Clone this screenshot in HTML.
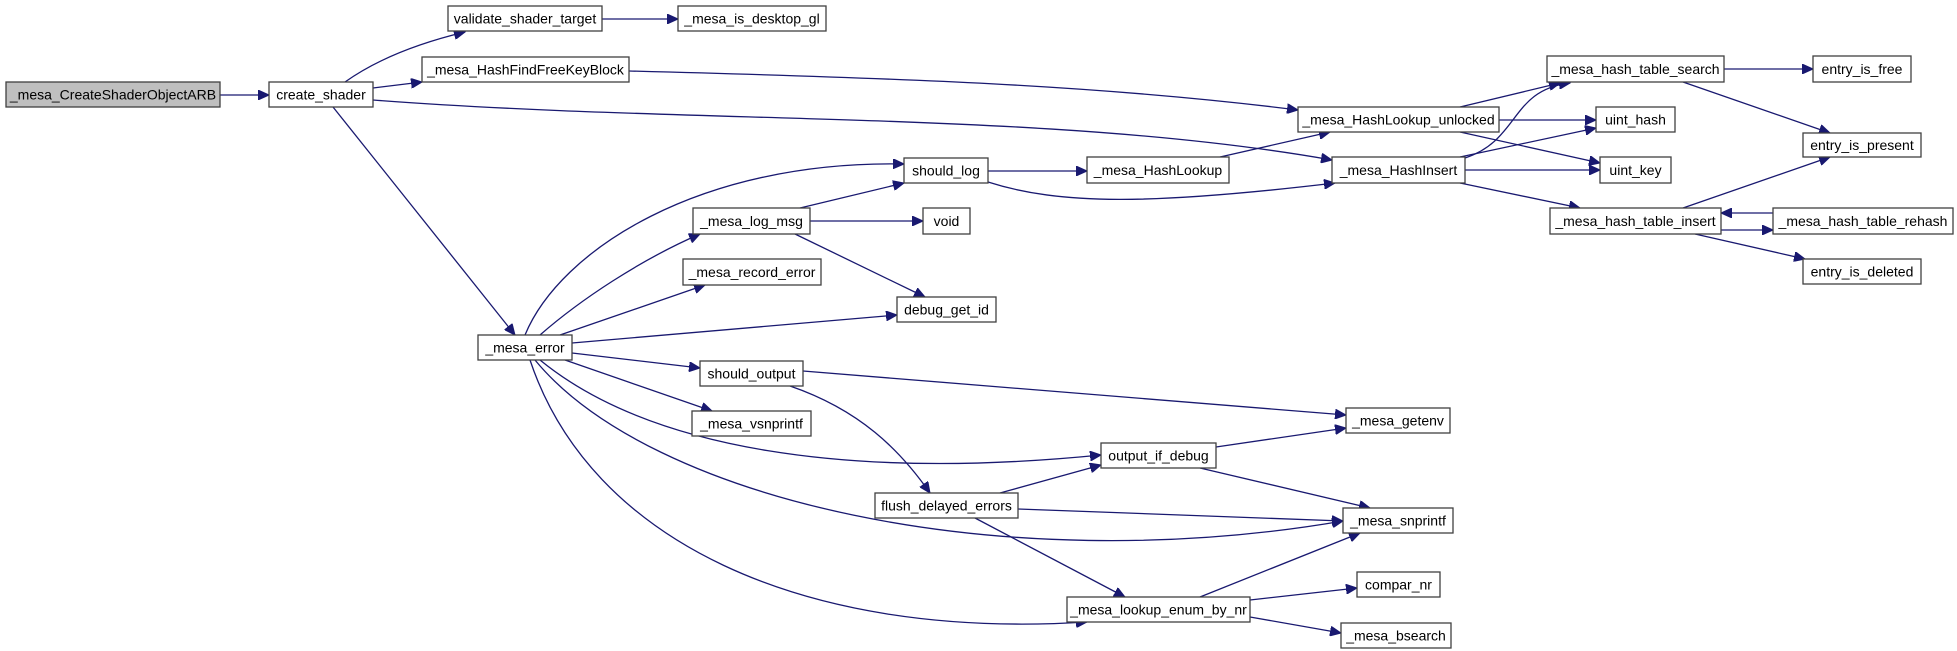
<!DOCTYPE html>
<html><head><meta charset="utf-8"><style>
html,body{margin:0;padding:0;background:#fff;}
svg{display:block;}
text{font-family:"Liberation Sans",Arial,sans-serif;font-size:14px;fill:#000;}
rect{fill:#fff;stroke:#404040;stroke-width:1.3;}
path{fill:none;stroke:#191970;stroke-width:1.3;}
</style></head><body>
<svg width="1957" height="651" viewBox="0 0 1957 651" xmlns="http://www.w3.org/2000/svg">
<defs><marker id="a" markerUnits="userSpaceOnUse" markerWidth="12" markerHeight="10" refX="11" refY="5" orient="auto"><path d="M0,0 L11,5 L0,10 Z" style="fill:#191970;stroke:#191970;stroke-width:1"/></marker></defs>
<g marker-end="url(#a)">
<path d="M220,95 L269,95"/>
<path d="M345,82 Q390,50 465,32"/>
<path d="M373,88 L422,82"/>
<path d="M373,100 C700,125 1050,110 1332,160"/>
<path d="M333,107 L515,335"/>
<path d="M602,19 L678,19"/>
<path d="M629,71 C900,78 1100,85 1298,110"/>
<path d="M1460,107 L1560,83"/>
<path d="M1499,120 L1596,120"/>
<path d="M1460,132 L1600,163"/>
<path d="M1465,158 C1520,140 1510,90 1570,83"/>
<path d="M1460,157 L1596,128"/>
<path d="M1465,170 L1600,170"/>
<path d="M1460,183 L1580,208"/>
<path d="M1724,69 L1813,69"/>
<path d="M1683,82 L1830,133"/>
<path d="M1683,208 L1830,157"/>
<path d="M1773,213 L1721,213"/>
<path d="M1721,230 L1773,230"/>
<path d="M1695,234 L1805,259"/>
<path d="M1220,157 L1330,132"/>
<path d="M988,171 L1087,171"/>
<path d="M988,182 C1060,205 1150,205 1335,183"/>
<path d="M800,208 L904,183"/>
<path d="M810,221 L923,221"/>
<path d="M795,234 L925,297"/>
<path d="M525,335 C560,250 700,160 904,164"/>
<path d="M540,335 C580,300 640,260 700,234"/>
<path d="M560,335 L705,285"/>
<path d="M572,343 L897,315"/>
<path d="M572,353 L700,368"/>
<path d="M565,360 L712,411"/>
<path d="M540,360 C650,450 850,480 1101,455"/>
<path d="M535,360 C650,500 1000,580 1343,521"/>
<path d="M530,360 C590,540 800,640 1087,622"/>
<path d="M803,371 L1346,415"/>
<path d="M790,386 C860,410 900,450 930,493"/>
<path d="M1216,447 L1346,428"/>
<path d="M1200,468 L1370,508"/>
<path d="M1000,493 L1101,465"/>
<path d="M1018,509 L1343,521"/>
<path d="M975,518 L1125,597"/>
<path d="M1200,597 L1360,533"/>
<path d="M1250,600 L1357,588"/>
<path d="M1250,617 L1341,633"/>
</g>
<g text-anchor="middle">
<rect x="6" y="82" width="214" height="25" style="fill:#bfbfbf"/><text x="113" y="99.5">_mesa_CreateShaderObjectARB</text>
<rect x="269" y="82" width="104" height="25"/><text x="321" y="99.5">create_shader</text>
<rect x="448" y="6" width="154" height="25"/><text x="525" y="23.5">validate_shader_target</text>
<rect x="678" y="6" width="148" height="25"/><text x="752" y="23.5">_mesa_is_desktop_gl</text>
<rect x="422" y="57" width="207" height="25"/><text x="525.5" y="74.5">_mesa_HashFindFreeKeyBlock</text>
<rect x="1298" y="107" width="201" height="25"/><text x="1398.5" y="124.5">_mesa_HashLookup_unlocked</text>
<rect x="1547" y="56" width="177" height="26"/><text x="1635.5" y="74">_mesa_hash_table_search</text>
<rect x="1813" y="56" width="98" height="26"/><text x="1862" y="74">entry_is_free</text>
<rect x="1596" y="107" width="79" height="25"/><text x="1635.5" y="124.5">uint_hash</text>
<rect x="1600" y="157" width="71" height="26"/><text x="1635.5" y="175">uint_key</text>
<rect x="1803" y="133" width="118" height="24"/><text x="1862" y="150">entry_is_present</text>
<rect x="1332" y="157" width="133" height="26"/><text x="1398.5" y="175">_mesa_HashInsert</text>
<rect x="904" y="158" width="84" height="25"/><text x="946" y="175.5">should_log</text>
<rect x="1087" y="157" width="142" height="26"/><text x="1158" y="175">_mesa_HashLookup</text>
<rect x="1550" y="208" width="171" height="26"/><text x="1635.5" y="226">_mesa_hash_table_insert</text>
<rect x="1773" y="208" width="180" height="26"/><text x="1863" y="226">_mesa_hash_table_rehash</text>
<rect x="1803" y="259" width="118" height="25"/><text x="1862" y="276.5">entry_is_deleted</text>
<rect x="693" y="208" width="117" height="26"/><text x="751.5" y="226">_mesa_log_msg</text>
<rect x="923" y="208" width="47" height="26"/><text x="946.5" y="226">void</text>
<rect x="683" y="259" width="138" height="26"/><text x="752" y="277">_mesa_record_error</text>
<rect x="897" y="297" width="99" height="25"/><text x="946.5" y="314.5">debug_get_id</text>
<rect x="478" y="335" width="94" height="25"/><text x="525" y="352.5">_mesa_error</text>
<rect x="700" y="361" width="103" height="25"/><text x="751.5" y="378.5">should_output</text>
<rect x="692" y="411" width="119" height="25"/><text x="751.5" y="428.5">_mesa_vsnprintf</text>
<rect x="1346" y="408" width="104" height="25"/><text x="1398" y="425.5">_mesa_getenv</text>
<rect x="1101" y="443" width="115" height="25"/><text x="1158.5" y="460.5">output_if_debug</text>
<rect x="875" y="493" width="143" height="25"/><text x="946.5" y="510.5">flush_delayed_errors</text>
<rect x="1343" y="508" width="110" height="25"/><text x="1398" y="525.5">_mesa_snprintf</text>
<rect x="1067" y="597" width="183" height="25"/><text x="1158.5" y="614.5">_mesa_lookup_enum_by_nr</text>
<rect x="1357" y="572" width="83" height="25"/><text x="1398.5" y="589.5">compar_nr</text>
<rect x="1341" y="623" width="110" height="25"/><text x="1396" y="640.5">_mesa_bsearch</text>
</g>
</svg>
</body></html>
